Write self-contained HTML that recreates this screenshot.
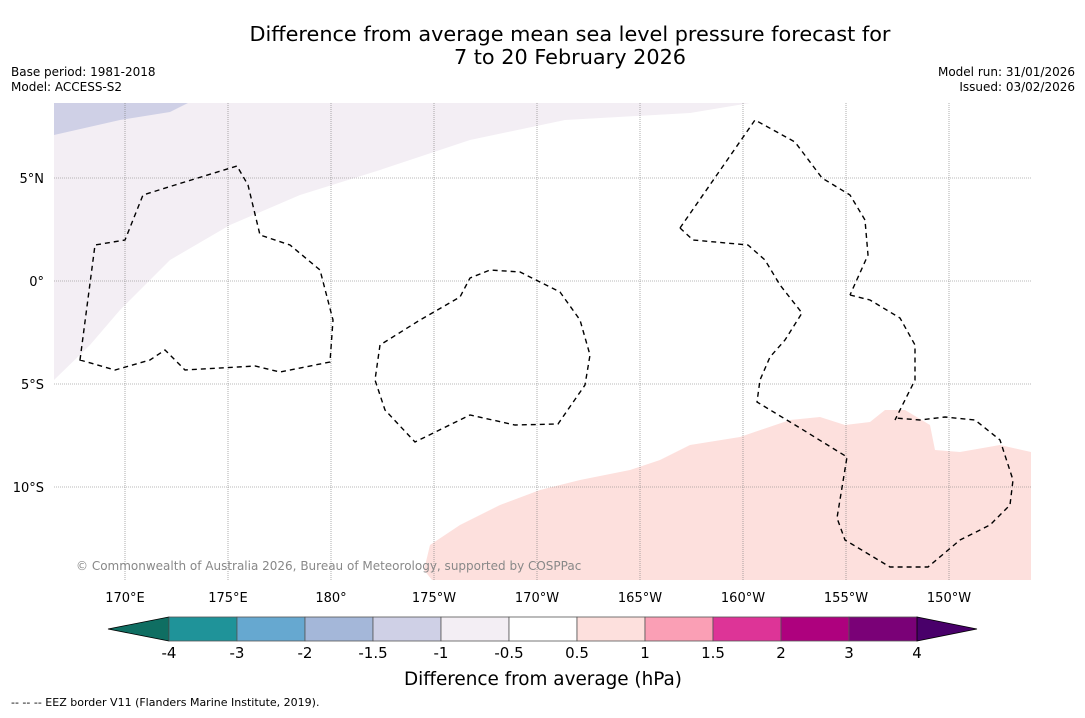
<!DOCTYPE html>
<html><head><meta charset="utf-8"><style>
body{margin:0;background:#fff;font-family:"Liberation Sans","DejaVu Sans",sans-serif}
svg text{font-family:"DejaVu Sans","Liberation Sans",sans-serif}
</style></head><body>
<svg id="s" width="1085" height="713" xmlns="http://www.w3.org/2000/svg">
<text x="570" y="41" font-size="20.8" text-anchor="middle">Difference from average mean sea level pressure forecast for</text>
<text x="570" y="64" font-size="20.8" text-anchor="middle">7 to 20 February 2026</text>
<text x="11" y="76" font-size="12">Base period: 1981-2018</text>
<text x="11" y="91" font-size="12">Model: ACCESS-S2</text>
<text x="1075" y="76" font-size="12" text-anchor="end">Model run: 31/01/2026</text>
<text x="1075" y="91" font-size="12" text-anchor="end">Issued: 03/02/2026</text>
<defs><clipPath id="mc"><rect x="54" y="103" width="977" height="477"/></clipPath></defs>
<g clip-path="url(#mc)">
<path fill="#f3eef4" d="M54,103 L750,103 L690,113 L565,120 L470,140 L380,170 L300,195 L230,225 L170,260 L120,310 L90,345 L54,380 Z"/>
<path fill="#cfd0e6" d="M54,103 L188,103 L170,112 L120,120 L54,135 Z"/>
<path fill="#fde0dd" d="M1031,452 L1000,445 L960,452 L935,450 L930,425 L905,410 L885,410 L870,422 L845,425 L820,417 L790,420 L740,437 L690,445 L660,460 L630,470 L580,480 L540,490 L500,505 L460,525 L430,545 L424,570 L432,580 L1031,580 Z"/>
<g id="grid"></g>
<g fill="none" stroke="#000" stroke-width="1.4" stroke-dasharray="5,4">
<path d="M80,360 L95,245 L125,240 L143,195 L175,185 L237,166 L248,185 L260,235 L290,245 L320,270 L333,320 L330,362 L280,372 L255,366 L185,370 L165,350 L150,360 L115,370 Z"/>
<path d="M380,345 L375,380 L385,410 L415,442 L470,415 L515,425 L558,424 L585,385 L590,355 L580,320 L560,292 L520,272 L490,270 L470,278 L460,297 L420,320 Z"/>
<path d="M680,228 L755,120 L795,142 L822,178 L850,195 L865,220 L868,255 L850,295"/>
<path d="M850,295 L870,300 L900,318 L915,345 L915,380 L895,420"/>
<path d="M680,228 L693,240 L748,245 L765,260 L780,285 L802,313 L785,340 L770,357 L760,380 L757,402 L800,428 L847,457 L837,518 L845,540 L890,567 L928,567 L960,540 L990,525 L1010,505 L1013,480 L1000,440 L975,420 L945,417 L920,420 L895,418"/>
</g>
</g>
<text x="76" y="570" font-size="12" fill="#888">© Commonwealth of Australia 2026, Bureau of Meteorology, supported by COSPPac</text>
<g id="ticks"></g>
<g id="cbar"></g>
<text x="543" y="685" font-size="18.4" text-anchor="middle">Difference from average (hPa)</text>
<text x="11" y="706" font-size="11">--  --  -- EEZ border V11 (Flanders Marine Institute, 2019).</text>
</svg>
<script>
const lonLabels=["170°E","175°E","180°","175°W","170°W","165°W","160°W","155°W","150°W"];
const lonValues=[170,175,180,185,190,195,200,205,210];
const latLabels=["5°N","0°","5°S","10°S"];
const latValues=[5,0,-5,-10];
const levels=["-4","-3","-2","-1.5","-1","-0.5","0.5","1","1.5","2","3","4"];
const binColors=["#1f9399","#66a8d0","#a4b7d9","#cfd0e6","#f3eef4","#ffffff","#fde0dd","#fa9fb5","#dd3497","#ae017e","#7a0177"];
const underColor="#0f6e62", overColor="#49006a";
const NS="http://www.w3.org/2000/svg";
const xLon=v=>125+(v-170)*20.6, yLat=v=>281-v*20.6;
function mk(t,a,p){const e=document.createElementNS(NS,t);for(const k in a)e.setAttribute(k,a[k]);p.appendChild(e);return e;}
const g=document.getElementById('grid'),tk=document.getElementById('ticks');
lonValues.forEach((v,i)=>{const x=xLon(v);
const l=mk('line',{x1:x,x2:x,y1:103,y2:580,stroke:'#777','stroke-width':0.6,'stroke-dasharray':'1,1'},g);


const t=mk('text',{x:x,y:602,'font-size':13,'text-anchor':'middle'},tk);t.textContent=lonLabels[i];

});
latValues.forEach((v,i)=>{const y=yLat(v);
const l=mk('line',{x1:54,x2:1031,y1:y,y2:y,stroke:'#777','stroke-width':0.6,'stroke-dasharray':'1,1'},g);


const t=mk('text',{x:44,y:y+5,'font-size':13,'text-anchor':'end'},tk);t.textContent=latLabels[i];

});
const cb=document.getElementById('cbar');const x0=169,w=68,y0=617,h=24;
const ul=mk('polygon',{points:`${x0},${y0} ${x0},${y0+h} 108,${y0+h/2}`,fill:underColor,stroke:'#000','stroke-width':0.8},cb);


binColors.forEach((c,i)=>{const r=mk('rect',{x:x0+i*w,y:y0,width:w,height:h,fill:c,stroke:'#555','stroke-width':0.8},cb);

});
const xe=x0+binColors.length*w;
const ov=mk('polygon',{points:`${xe},${y0} ${xe},${y0+h} ${xe+60},${y0+h/2}`,fill:overColor,stroke:'#000','stroke-width':0.8},cb);


levels.forEach((s,i)=>{const t=mk('text',{x:x0+i*w,y:658,'font-size':15,'text-anchor':'middle'},cb);t.textContent=s;

});
</script>
</body></html>
